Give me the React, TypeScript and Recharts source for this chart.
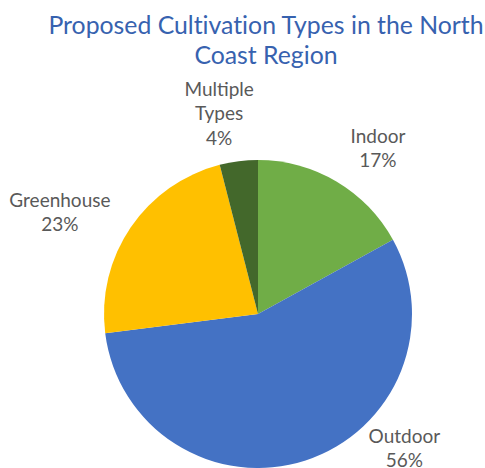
import { PieChart, Pie, Cell } from "recharts";

const TYPES = ["Indoor", "Outdoor", "Greenhouse", "Multiple Types"];
const SHARES = [17, 56, 23, 4];
const COLORS = ["#70ad47", "#4472c4", "#ffc000", "#43682b"];
// label text lines per slice (Excel wraps the long one)
const LABEL_LINES = [["Indoor"], ["Outdoor"], ["Greenhouse"], ["Multiple", "Types"]];

const TITLE_LINES = ["Proposed Cultivation Types in the North", "Coast Region"];

const TEXT = "#595959";
const TITLE = "#3762af";
const FONT = "Lato, 'Open Sans', sans-serif";

// where Excel's best-fit put each label: angle from 12 o'clock (clockwise), distance as share of radius
const PLACE: Record<string, { angle: number; dist: number }> = {
  Indoor: { angle: 35.7, dist: 1.335 },
  Outdoor: { angle: 132.3, dist: 1.285 },
  Greenhouse: { angle: -62.5, dist: 1.45 },
  "Multiple Types": { angle: -10.9, dist: 1.335 },
};

const data = TYPES.map((name, i) => ({ name, value: SHARES[i] }));

const LINE_H = 24.5;

function renderLabel(props: any) {
  const { cx, cy, outerRadius, name, percent, index } = props;
  const p = PLACE[name];
  const a = (p.angle * Math.PI) / 180;
  const x = cx + Math.sin(a) * outerRadius * p.dist;
  const y = cy - Math.cos(a) * outerRadius * p.dist;
  const lines = [...LABEL_LINES[index], `${Math.round(percent * 100)}%`];
  const top = y - ((lines.length - 1) * LINE_H) / 2;
  return (
    <text
      x={x}
      y={top}
      fill={TEXT}
      fontSize={19}
      fontFamily={FONT}
      textAnchor="middle"
      dominantBaseline="central"
    >
      {lines.map((l, i) => (
        <tspan key={i} x={x} y={top + i * LINE_H}>
          {l}
        </tspan>
      ))}
    </text>
  );
}

export default function App() {
  return (
    <div style={{ position: "relative", width: 485, height: 468, background: "#fff", overflow: "hidden" }}>
      <style>{"body{margin:0}"}</style>
      <div
        style={{
          position: "absolute",
          top: 10,
          left: 0,
          width: 485,
          paddingLeft: 47,
          boxSizing: "border-box",
          textAlign: "center",
          color: TITLE,
          fontFamily: FONT,
          fontSize: 24.8,
          lineHeight: "30px",
          whiteSpace: "nowrap",
          fontVariantLigatures: "none",
        }}
      >
        {TITLE_LINES.map((t) => (
          <div key={t}>{t}</div>
        ))}
      </div>
      <PieChart width={485} height={468} margin={{ top: 0, right: 0, bottom: 0, left: 0 }}>
        <Pie
          data={data}
          dataKey="value"
          nameKey="name"
          cx={258}
          cy={314}
          outerRadius={154}
          startAngle={90}
          endAngle={-270}
          stroke="none"
          label={renderLabel}
          labelLine={false}
          isAnimationActive={false}
        >
          {data.map((d, i) => (
            <Cell key={d.name} fill={COLORS[i]} />
          ))}
        </Pie>
      </PieChart>
    </div>
  );
}
